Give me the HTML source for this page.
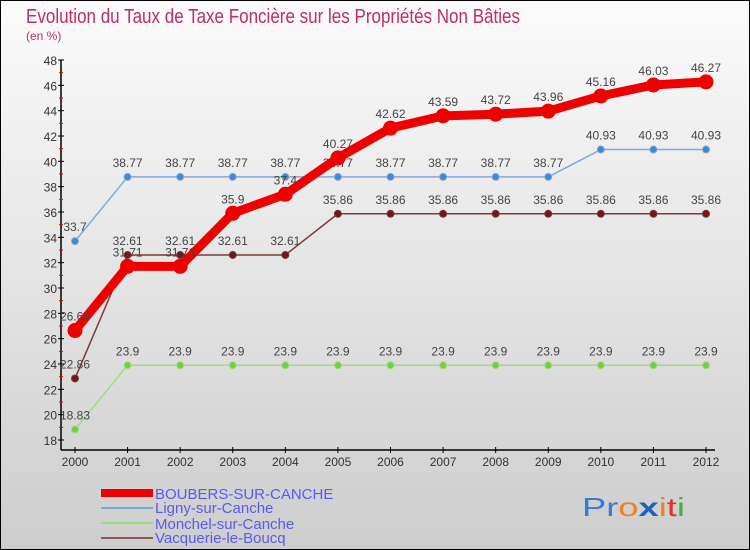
<!DOCTYPE html>
<html><head><meta charset="utf-8"><style>
body{margin:0;}
#c{width:750px;height:550px;position:relative;overflow:hidden;}
svg text{font-family:"Liberation Sans",sans-serif;}
</style></head><body>
<div id="c">
<svg id="s" width="750" height="550" xmlns="http://www.w3.org/2000/svg">
<defs><linearGradient id="bg" x1="0" y1="0" x2="0" y2="1"><stop offset="0" stop-color="#fbfbfb"/><stop offset="1" stop-color="#cdcdcd"/></linearGradient></defs>
<rect x="0.5" y="0.5" width="749" height="549" fill="url(#bg)" stroke="#000"/>
<text x="26" y="23" font-size="20" fill="#c0305a" textLength="494" lengthAdjust="spacingAndGlyphs">Evolution du Taux de Taxe Foncière sur les Propriétés Non Bâties</text>
<text x="26" y="40" font-size="12" fill="#c0305a">(en %)</text>
<g id="axes"></g><g id="series"></g>
<g>
<rect x="101" y="489" width="52" height="8" fill="#e00"/>
<text x="155" y="499" font-size="15" fill="#5a5af0">BOUBERS-SUR-CANCHE</text>
<line x1="101" y1="508" x2="153" y2="508" stroke="#7aaad0" stroke-width="2"/>
<text x="155" y="513" font-size="15" fill="#5a5af0">Ligny-sur-Canche</text>
<line x1="101" y1="523" x2="153" y2="523" stroke="#99dd77" stroke-width="2"/>
<text x="155" y="529" font-size="15" fill="#5a5af0">Monchel-sur-Canche</text>
<line x1="101" y1="538" x2="153" y2="538" stroke="#8a5a5a" stroke-width="2"/>
<text x="155" y="543" font-size="15" fill="#5a5af0">Vacquerie-le-Boucq</text>
</g>
<text x="582" y="516" font-size="26" textLength="103" lengthAdjust="spacingAndGlyphs"><tspan fill="#3a7ad0">Pr</tspan><tspan fill="#f08020">o</tspan><tspan fill="#2060c0" font-weight="bold">x</tspan><tspan fill="#f08020">i</tspan><tspan fill="#e03030">t</tspan><tspan fill="#40b040">i</tspan></text>
</svg></div>
<script>
const years=[2000,2001,2002,2003,2004,2005,2006,2007,2008,2009,2010,2011,2012];
const yTicks=[18,20,22,24,26,28,30,32,34,36,38,40,42,44,46,48];
const boubers=[26.64,31.71,31.71,35.9,37.4,40.27,42.62,43.59,43.72,43.96,45.16,46.03,46.27];
const ligny=[33.7,38.77,38.77,38.77,38.77,38.77,38.77,38.77,38.77,38.77,40.93,40.93,40.93];
const monchel=[18.83,23.9,23.9,23.9,23.9,23.9,23.9,23.9,23.9,23.9,23.9,23.9,23.9];
const vacquerie=[22.86,32.61,32.61,32.61,32.61,35.86,35.86,35.86,35.86,35.86,35.86,35.86,35.86];
const NS="http://www.w3.org/2000/svg";
const xS=i=>75+i*(706-75)/(years.length-1);
const yS=v=>440-(v-18)*(380/30);
function mk(t,a,p){const e=document.createElementNS(NS,t);for(const k in a)e.setAttribute(k,a[k]);p.appendChild(e);return e;}
const ax=document.getElementById('axes'),sg=document.getElementById('series');
const yl=mk('line',{x1:61,y1:60,x2:61,y2:450,stroke:'#000','stroke-width':1.5},ax);


const xl=mk('line',{x1:61,y1:450,x2:715,y2:450,stroke:'#000','stroke-width':1.5},ax);


yTicks.forEach(v=>{const y=yS(v);mk('line',{x1:58,y1:y,x2:64,y2:y,stroke:'#000'},ax);
 if(v<48)mk('line',{x1:59,y1:y-12.67,x2:63,y2:y-12.67,stroke:'#e00'},ax);
 const t=mk('text',{x:57,y:y+5,'font-size':12,'text-anchor':'end',fill:'#333'},ax);t.textContent=v;
 
 });
years.forEach((yr,i)=>{const x=xS(i);mk('line',{x1:x,y1:447,x2:x,y2:453,stroke:'#000'},ax);
 const t=mk('text',{x:x,y:466,'font-size':12,'text-anchor':'middle',fill:'#333'},ax);t.textContent=yr;
 
 });
function series(vals,color,w,r,dot,name){
 const g=mk('g',{},sg);
 
 
 mk('polyline',{points:vals.map((v,i)=>xS(i)+','+yS(v)).join(' '),fill:'none',stroke:color,'stroke-width':w,'stroke-linejoin':'round'},g);
 vals.forEach((v,i)=>{const c=mk('circle',{cx:xS(i),cy:yS(v),r:r,fill:dot,stroke:color,'stroke-width':1},g);
  
  
  const t=mk('text',{x:xS(i),y:yS(v)-10,'font-size':12,'text-anchor':'middle',fill:'#444'},g);t.textContent=v;
  
  });
}
series(monchel,'#a0dd80',1.5,3.5,'#77cc44','series-monchel');
series(ligny,'#80aad8',1.5,3.5,'#4488cc','series-ligny');
series(vacquerie,'#7a3a3a',1.5,3.5,'#6a1a1a','series-vacquerie');
series(boubers,'#ee0000',9,7,'#ee0000','series-boubers');
</script>
</body></html>
